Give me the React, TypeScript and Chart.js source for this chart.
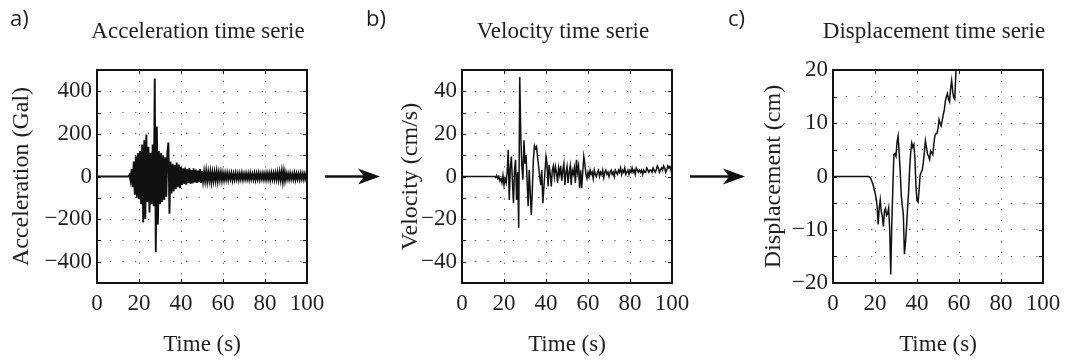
import React, { useEffect, useRef } from "react";
import { Chart, registerables } from "chart.js";

Chart.register(...registerables);

// ---------- data ----------
const timeTickLabels = [0, 20, 40, 60, 80, 100];

// Acceleration (Gal), sampled every 0.5 s from t = 15 s (zero before)
const accelStart = 15;
const accelStep = 0.5;
const accelValues = [
  0, 8, -20, 35, -50, 70, -85, 95, -100, 110,
  -105, 120, -130, 150, -216, 170, -200, 197, -120, 140,
  -169, 110, -130, 150, -140, 460, -356, 235, -225, 120,
  -130, 110, -120, 100, -110, 90, -95, 110, 160, -175,
  70, -80, 60, -70, 55, -60, 65, -50, 56, -55,
  45, -40, 38, -35, 42, -38, 35, -30, 40, -35,
  30, -32, 38, -28, 32, -30, 28, -25, 35, -30,
  25, -22, 22, -20, 25, -22, 20, -18, 22, -25,
  18, -20, 20, -18, 22, -20, 18, -15, 20, -18,
  15, -16, 15, -14, 16, -15, 14, -12, 15, -16,
  12, -14, 15, -12, 13, -15, 14, -12, 16, -14,
  12, -13, 14, -12, 13, -14, 15, -12, 12, -13,
  14, -15, 13, -12, 15, -14, 12, -12, 14, -13,
  13, -14, 15, -13, 14, -15, 16, -13, 15, -14,
  16, -14, 18, -15, 20, -16, 25, -22, 24, -18,
  16, -12, 13, -14, 14, -12, 12, -13, 15, -14,
  13, -12, 12, -14, 14, -11, 13, -13, 12, -12,
  5,
];
const accelTickLabels = [-400, -200, 0, 200, 400];

// Velocity (cm/s), every 0.5 s from t = 15 s
const velStart = 15;
const velStep = 0.5;
const velValues = [
  0, 0, -0.5, 0.5, -1, 0, -2, -1, -3, 0.5,
  -4, -1, -3, 2, 12.5, -11, 4, 9.4, -2, -12.5,
  3, 7.8, -11, 2, -24, 46.7, 18.8, 5, -1.5, 17,
  6, 10, -2, -14, 3, -8, -18, -6, 8, 14.4,
  13, 14, 9, 4.7, 0, -4, 3, -12.5, -5, 2,
  9.4, 6, -4.7, 5.5, 1, -4.7, 3, 5, 0, 4.7,
  2, -3, 4, 1, 5, -2, 3, 6, -4, 2,
  4.7, -3, 2, 5, -4, 3, 1, 4, -3, 7.8,
  2, 5, -5.5, 3, -5.5, 2, 9.4, 6, 1, -1,
  2, 0, 3, 1, 2, -1, 3, 1, 0, 2,
  3, 0, 2, 1, 3, -0.5, 2, 3, 1, 2,
  0, 2, 3, 1, 2, 0, 3, 2, 1, 3,
  2, 4, 1, 3, 2, 4, 1, 2, 3, 1,
  3, 2, 4, 2, 3, 1, 4, 3, 2, 3,
  2, 3, 1, 3, 2, 2, 4, 3, 2, 3,
  3, 2, 4, 3, 2, 3, 5, 4, 2, 3,
  4, 3, 5, 4, 2, 3, 5, 4, 4.7, 3,
  1,
];
const velTickLabels = [-40, -20, 0, 20, 40];

// Displacement (cm), every 0.5 s from t = 15 s to 60 s
const dispStart = 15;
const dispStep = 0.5;
const dispValues = [
  0, 0, 0, 0, 0, -0.1, -0.4, -0.9, -1.4, -2.2,
  -3.0, -4.0, -5.5, -9.0, -6.0, -4.4, -6.6, -7.5, -9.4, -6.5,
  -6.0, -7.3, -7.0, -5.9, -10, -18.4, -9.0, -2, 4.1, 4.3,
  3.8, 6.5, 7.6, 4.5, 1.0, -3.5, -5.5, -7.1, -14.6, -12.5,
  -9.6, -6.0, -3.0, 1.5, 4.5, 6.3, 5.5, 6.0, 3.5, -1.9,
  -4.5, -4.8, -2.5, 0.3, 0.8, 1.2, 2.6, 4.5, 6.7, 5.5,
  4.2, 3.8, 3.2, 4.8, 4.5, 4.1, 6.0, 7.6, 8.0, 8.1,
  9.0, 10.7, 10.0, 9.5, 10.5, 11.6, 12.5, 14.1, 15.0, 15.6,
  14.5, 14.0, 16.5, 18.0, 16.0, 14.8, 14.5, 19.5, 22.0, 24.0,
  26,
];
const dispTickLabels = [-20, -10, 0, 10, 20];

// ---------- panels ----------
const SERIF = '"Liberation Serif", "Times New Roman", serif';
const SANS = '"Open Sans", "Noto Sans", sans-serif';
const TEXT = "#231f20";

const panels = [
  {
    key: "a", letter: "a)", title: "Acceleration time serie", yTitle: "Acceleration (Gal)",
    start: accelStart, step: accelStep, values: accelValues, tickLabels: accelTickLabels,
    yMin: -500, yMax: 500, yStep: 100, lineWidth: 1.9,
    padLeft: 0, yWidth: 97, yTitlePad: 7, padRight: 766, letterDx: -87, arrow: true,
  },
  {
    key: "b", letter: "b)", title: "Velocity time serie", yTitle: "Velocity (cm/s)",
    start: velStart, step: velStep, values: velValues, tickLabels: velTickLabels,
    yMin: -50, yMax: 50, yStep: 10, lineWidth: 1.5,
    padLeft: 380, yWidth: 82, yTitlePad: 16, padRight: 401, letterDx: -96, arrow: true,
  },
  {
    key: "c", letter: "c)", title: "Displacement time serie", yTitle: "Displacement (cm)",
    start: dispStart, step: dispStep, values: dispValues, tickLabels: dispTickLabels,
    yMin: -20, yMax: 20, yStep: 5, lineWidth: 1.5,
    padLeft: 750, yWidth: 83, yTitlePad: 9, padRight: 30, letterDx: -105, arrow: false,
  },
];

const fmt = (v: number) => (v < 0 ? "\u2212" + Math.abs(v) : String(v));

const decorPlugin = {
  id: "panelDecor",
  afterDraw(chart: any, _args: any, opts: any) {
    const { ctx, chartArea } = chart;
    const { left, right, top, bottom } = chartArea;
    const xs = chart.scales.x;
    const ys = chart.scales.y;
    ctx.save();
    // frame
    ctx.strokeStyle = "#111";
    ctx.lineWidth = 2;
    ctx.strokeRect(left, top, right - left, bottom - top);
    // inward ticks
    ctx.lineWidth = 1;
    ctx.beginPath();
    xs.ticks.forEach((t: any) => {
      const px = Math.round(xs.getPixelForValue(t.value)) + 0.5;
      ctx.moveTo(px, bottom); ctx.lineTo(px, bottom - 4);
      ctx.moveTo(px, top); ctx.lineTo(px, top + 4);
    });
    ys.ticks.forEach((t: any) => {
      const py = Math.round(ys.getPixelForValue(t.value)) + 0.5;
      ctx.moveTo(left, py); ctx.lineTo(left + 4, py);
      ctx.moveTo(right, py); ctx.lineTo(right - 4, py);
    });
    ctx.stroke();
    // title
    ctx.fillStyle = TEXT;
    ctx.font = `23px ${SERIF}`;
    ctx.textAlign = "center";
    ctx.textBaseline = "middle";
    ctx.fillText(opts.title, (left + right) / 2 - 4, 32);
    // letter
    ctx.font = `22px ${SANS}`;
    ctx.textAlign = "left";
    ctx.textBaseline = "alphabetic";
    ctx.fillText(opts.letter, left + opts.letterDx, 26);
    // arrow
    if (opts.arrow) {
      const cy = (top + bottom) / 2;
      const x0 = right + 18;
      const x1 = right + 73;
      ctx.strokeStyle = "#111";
      ctx.fillStyle = "#111";
      ctx.lineWidth = 2.5;
      ctx.beginPath();
      ctx.moveTo(x0, cy);
      ctx.lineTo(x1 - 12, cy);
      ctx.stroke();
      ctx.beginPath();
      ctx.moveTo(x1, cy);
      ctx.lineTo(x1 - 22, cy - 8);
      ctx.lineTo(x1 - 16, cy);
      ctx.lineTo(x1 - 22, cy + 8);
      ctx.closePath();
      ctx.fill();
    }
    ctx.restore();
  },
};

function makeConfig(p: any): any {
  const points = [{ x: 0, y: 0 }].concat(
    p.values.map((v: number, i: number) => ({ x: p.start + i * p.step, y: v }))
  );
  return {
    type: "line",
    data: {
      datasets: [
        {
          data: points,
          borderColor: "#111",
          borderWidth: p.lineWidth,
          pointRadius: 0,
          tension: 0,
          fill: false,
          clip: 0,
        },
      ],
    },
    options: {
      responsive: false,
      animation: false,
      events: [],
      layout: { padding: { left: p.padLeft, right: p.padRight, top: 70, bottom: 0 } },
      plugins: {
        legend: { display: false },
        tooltip: { enabled: false },
        panelDecor: { title: p.title, letter: p.letter, letterDx: p.letterDx, arrow: p.arrow },
      },
      scales: {
        x: {
          type: "linear",
          min: 0,
          max: 100,
          afterFit: (s: any) => { s.height = 78; },
          ticks: {
            stepSize: 20,
            autoSkip: false,
            maxRotation: 0,
            padding: 7,
            color: TEXT,
            font: { family: SERIF, size: 23 },
            callback: (v: number) => (timeTickLabels.includes(v) ? String(v) : ""),
          },
          grid: { drawTicks: false, color: "#555", lineWidth: 1 },
          border: { display: false, dash: [1.2, 9.5] },
          title: {
            display: true,
            text: "Time (s)",
            color: TEXT,
            font: { family: SERIF, size: 23 },
            padding: { top: 0, bottom: 2 },
          },
        },
        y: {
          type: "linear",
          min: p.yMin,
          max: p.yMax,
          afterFit: (s: any) => { s.width = p.yWidth; },
          ticks: {
            stepSize: p.yStep,
            autoSkip: false,
            padding: 5,
            color: TEXT,
            font: { family: SERIF, size: 23 },
            callback: (v: number) => (p.tickLabels.includes(v) ? fmt(v) : ""),
          },
          grid: { drawTicks: false, color: "#555", lineWidth: 1 },
          border: { display: false, dash: [1.2, 11.5] },
          title: {
            display: true,
            text: p.yTitle,
            color: TEXT,
            font: { family: SERIF, size: 24 },
            padding: { top: p.yTitlePad, bottom: 0 },
          },
        },
      },
    },
    plugins: [decorPlugin],
  };
}

export default function App() {
  const r0 = useRef<HTMLCanvasElement>(null);
  const r1 = useRef<HTMLCanvasElement>(null);
  const r2 = useRef<HTMLCanvasElement>(null);
  const refs = [r0, r1, r2];

  useEffect(() => {
    let cancelled = false;
    let charts: Chart[] = [];
    const build = () => {
      if (cancelled) return;
      charts = panels.map((p, i) => new Chart(refs[i].current as HTMLCanvasElement, makeConfig(p)));
    };
    const fonts: any = (document as any).fonts;
    if (fonts && fonts.load) {
      Promise.all([
        fonts.load('23px "Liberation Serif"'),
        fonts.load('24px "Liberation Serif"'),
        fonts.load('22px "Open Sans"'),
      ]).then(build, build);
    } else {
      build();
    }
    return () => {
      cancelled = true;
      charts.forEach((c) => c.destroy());
    };
  }, []);

  return (
    <div style={{ position: "absolute", left: 0, top: 0, width: 1073, height: 361, background: "#fff" }}>
      {panels.map((p, i) => (
        <canvas
          key={p.key}
          ref={refs[i]}
          width={1073}
          height={361}
          style={{ position: "absolute", left: 0, top: 0 }}
        />
      ))}
    </div>
  );
}
